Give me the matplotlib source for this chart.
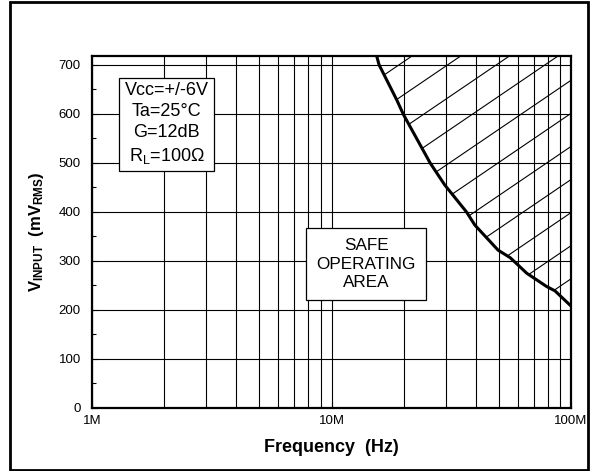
import matplotlib
matplotlib.use("Agg")
import matplotlib.pyplot as plt
import numpy as np
from matplotlib.patches import Rectangle
from matplotlib.ticker import FixedLocator, FixedFormatter, LogLocator, NullFormatter, MultipleLocator

plt.rcParams['font.family'] = ['Liberation Sans', 'DejaVu Sans']
plt.rcParams['mathtext.fontset'] = 'custom'
plt.rcParams['mathtext.rm'] = 'Liberation Sans'
plt.rcParams['mathtext.it'] = 'Liberation Sans:italic'
plt.rcParams['mathtext.bf'] = 'Liberation Sans:bold'

# safe operating area boundary (frequency in MHz, input in mV rms)
freq_mhz = [15.4, 15.8, 18.7, 20.0, 25.8, 29.7, 36.6, 39.7, 49.6, 55.6, 60.0, 65.3, 79.0, 85.7, 100.0]
v_input = [720, 700, 629, 598, 500, 455, 400, 373, 322, 307, 292, 275, 248, 239, 208]

x_ticks = [1e6, 1e7, 1e8]
x_labels = ["1M", "10M", "100M"]
y_ticks = [0, 100, 200, 300, 400, 500, 600, 700]

conditions = "Vcc=+/-6V\nTa=25°C\nG=12dB\nR$_{\\mathrm{L}}$=100Ω"
area_label = "SAFE\nOPERATING\nAREA"

freq = np.array(freq_mhz) * 1e6
vin = np.array(v_input)

fig = plt.figure(figsize=(5.97, 4.71), dpi=100)
ax = fig.add_axes([92 / 597, 1 - 408 / 471, 479 / 597, 352 / 471])

ax.set_xscale("log")
ax.set_xlim(1e6, 1e8)
ax.set_ylim(0, 718)

ax.xaxis.set_major_locator(FixedLocator(x_ticks))
ax.xaxis.set_major_formatter(FixedFormatter(x_labels))
ax.xaxis.set_minor_locator(LogLocator(base=10, subs=np.arange(2, 10)))
ax.xaxis.set_minor_formatter(NullFormatter())
ax.set_yticks(y_ticks)
ax.yaxis.set_minor_locator(MultipleLocator(50))

ax.grid(True, which="both", axis="x", color="black", linewidth=0.8)
ax.grid(True, which="major", axis="y", color="black", linewidth=0.8)
ax.set_axisbelow(True)

ax.tick_params(which="both", direction="in", labelsize=9.5)
ax.tick_params(axis="y", pad=8)
ax.tick_params(axis="x", pad=5)
ax.tick_params(which="major", length=4, width=0.8)
ax.tick_params(which="minor", length=3, width=0.8)
ax.tick_params(axis="x", which="minor", length=0)
for s in ax.spines.values():
    s.set_linewidth(1.6)

# hatched region above the boundary
region = ax.fill_between(freq, vin, 718, facecolor="none", edgecolor="none")
clip = region.get_paths()[0]
u = np.array([0.0, 1.0])
for k in range(-12, 12):
    line, = ax.plot(u, 0.382 + 0.925 * u - 0.094 * k, color="black", linewidth=0.8,
                    transform=ax.transAxes)
    line.set_clip_path(clip, ax.transData)

ax.plot(freq, vin, color="black", linewidth=2.2)

ax.text(0.156, 0.807, conditions, transform=ax.transAxes, ha="center", va="center",
        fontsize=13, linespacing=1.3,
        bbox=dict(boxstyle="square,pad=0.3", facecolor="white", edgecolor="black", linewidth=0.9))
ax.text(0.572, 0.409, area_label, transform=ax.transAxes, ha="center", va="center",
        fontsize=12.3, linespacing=1.3,
        bbox=dict(boxstyle="square,pad=0.6", facecolor="white", edgecolor="black", linewidth=0.9))

ax.set_xlabel("Frequency  (Hz)", fontsize=13, fontweight="bold", labelpad=9)
ax.set_ylabel(r"$\mathbf{V_{INPUT}}$  $\mathbf{(mV_{RMS})}$", fontsize=12, labelpad=9)

fig.patches.append(Rectangle((10 / 597, 1 / 471), 578 / 597, 468 / 471, transform=fig.transFigure,
                             fill=False, edgecolor="black", linewidth=2))

fig.savefig("out.png", dpi=100)
